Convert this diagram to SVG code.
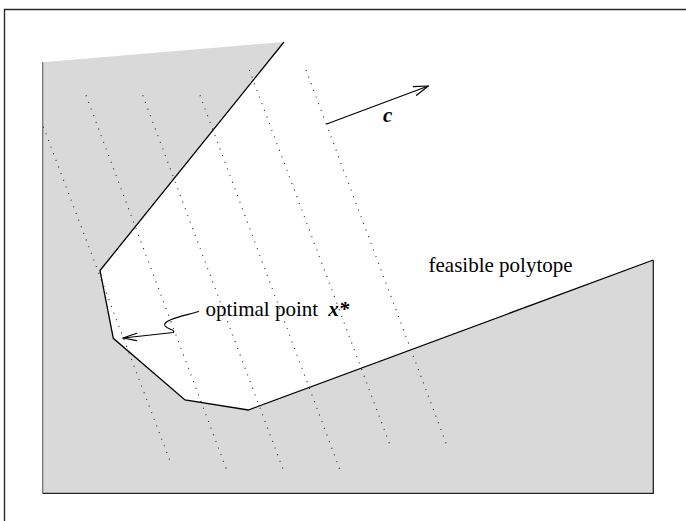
<svg xmlns="http://www.w3.org/2000/svg" width="686" height="521" viewBox="0 0 686 521">
  <style>
    .lvl { fill: none; stroke: #222; stroke-width: 1.1; stroke-dasharray: 1 6.1; }
    .edge { fill: none; stroke: #000; stroke-width: 1.3; stroke-linejoin: miter; }
    .arr { fill: none; stroke: #000; stroke-width: 1.2; stroke-linecap: round; stroke-linejoin: round; }
    .lbl { font-family: "Liberation Serif", "Times New Roman", serif; font-size: 21px; fill: #000; }
    .math { font-family: "Liberation Serif", "Times New Roman", serif; font-size: 21px; font-weight: bold; font-style: italic; fill: #000; }
  </style>
  <rect width="686" height="521" fill="#fff"/>
  <path d="M4.5 521 V9.5 H686" fill="none" stroke="#2a2a2a" stroke-width="1.4"/>

  <g id="infeasible-region">
    <polygon points="42.7,62.3 284,42 100,270.5 113.3,338.3 185,400 248.3,410 653.3,260 653.3,493.3 42.7,493.3" fill="#d9d9d9"/>
    <path d="M42.7 62.3 V493.3" fill="none" stroke="#6a6a6a" stroke-width="1.2"/>
    <path d="M42.7 493.3 H653.3 V260" fill="none" stroke="#222" stroke-width="1.3"/>
  </g>

  <g id="level-lines">
    <line class="lvl" x1="43.3" y1="126.7" x2="170" y2="461"/>
    <line class="lvl" x1="86" y1="95.3" x2="226.7" y2="470"/>
    <line class="lvl" x1="142.7" y1="95.3" x2="283.3" y2="470"/>
    <line class="lvl" x1="200" y1="95.3" x2="340" y2="470"/>
    <line class="lvl" x1="249.3" y1="70" x2="390" y2="445"/>
    <line class="lvl" x1="306" y1="70" x2="446.7" y2="445"/>
  </g>

  <g id="polytope-boundary">
    <polyline class="edge" points="284,42 100,270.5 113.3,338.3 185,400 248.3,410 653.3,260"/>
  </g>

  <g id="connectors">
    <g id="arrow-c">
      <path class="arr" d="M326.7 124 L428.3 86"/>
      <path class="arr" d="M413.3 86.7 L428.3 86 L416.6 95.3"/>
    </g>
    <g id="arrow-optimal">
      <path class="arr" d="M198.5 311.5 C186 315.5 161 320 165 326 C168 330 175 329 173.5 332.5 L123 338"/>
      <path class="arr" d="M136.7 333.3 L123 338 L136.7 340.7"/>
    </g>
  </g>

  <g id="labels">
    <text class="math" x="383" y="122">c</text>
    <text class="lbl" x="428.5" y="272">feasible polytope</text>
    <text class="lbl" x="205.5" y="316">optimal point <tspan class="math" dx="5">x</tspan><tspan class="math">*</tspan></text>
  </g>
</svg>
